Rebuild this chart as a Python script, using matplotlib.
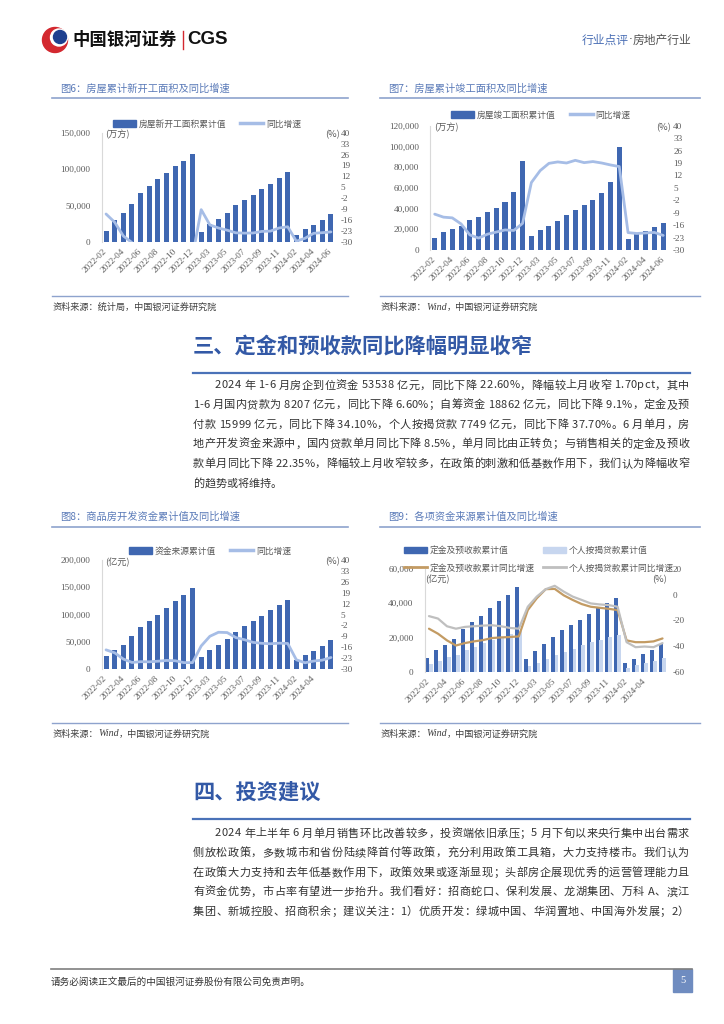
import matplotlib
matplotlib.use("Agg")
import matplotlib.pyplot as plt
import numpy as np
from matplotlib.patches import Rectangle, Circle, Patch
from matplotlib.lines import Line2D

plt.rcParams['font.family'] = ['Noto Sans CJK SC', 'DejaVu Sans']
plt.rcParams['axes.unicode_minus'] = False
SERIF = ['Liberation Serif', 'DejaVu Serif']

# ---------------- data ----------------
months = ['2022-02', '2022-03', '2022-04', '2022-05', '2022-06', '2022-07', '2022-08',
          '2022-09', '2022-10', '2022-11', '2022-12',
          '2023-02', '2023-03', '2023-04', '2023-05', '2023-06', '2023-07', '2023-08',
          '2023-09', '2023-10', '2023-11', '2023-12',
          '2024-02', '2024-03', '2024-04', '2024-05', '2024-06']

# fig 6: new starts, 万方 / %
new_start = [15110, 29638, 39739, 51628, 66423, 76621, 85700, 94767, 103722, 111632, 120587,
             13567, 24121, 31606, 39723, 49880, 56969, 63891, 72123, 79177, 87456, 95376,
             9429, 17359, 23510, 30090, 38023]
new_start_yoy = [-12.2, -17.5, -26.3, -30.6, -34.4, -36.1, -37.2, -38.0, -37.8, -38.9, -39.4,
                 -9.4, -19.2, -21.2, -22.6, -24.3, -24.5, -24.4, -23.4, -23.2, -21.2, -20.4,
                 -29.7, -27.8, -24.6, -24.2, -23.7]

# fig 7: completions, 万方 / %
completed = [11529, 17324, 20565, 23336, 28636, 32028, 36222, 40879, 46565, 55709, 86222,
             13178, 19422, 23551, 27826, 33904, 38405, 43726, 48705, 55151, 65237, 99831,
             10395, 15530, 18579, 22245, 26519]
completed_yoy = [-9.8, -11.5, -11.9, -15.3, -21.5, -23.3, -21.1, -19.9, -18.7, -19.0, -15.0,
                 8.0, 14.7, 18.8, 19.6, 19.0, 20.5, 19.2, 19.8, 19.0, 17.9, 17.0,
                 -20.2, -20.7, -20.4, -20.1, -21.8]

# fig 8: funds sourced, 亿元 / %
funds = [23438, 34936, 44797, 60180, 76455, 88770, 99914, 111770, 124477, 135890, 148979,
         21520, 34899, 43832, 55958, 68797, 78731, 87719, 98067, 107345, 116616, 127459,
         16493, 25416, 33421, 42571, 53538]
funds_yoy = [-17.7, -19.6, -23.6, -25.8, -25.3, -25.4, -25.0, -24.5, -24.7, -25.9, -25.9,
             -15.2, -9.0, -6.4, -6.6, -9.8, -11.2, -12.9, -13.5, -13.8, -13.4, -13.6,
             -24.1, -26.0, -24.9, -24.3, -22.6]

# fig 9: deposits & mortgages, 亿元 / %
deposit = [8200, 12700, 15600, 19300, 24800, 28900, 32800, 37400, 41300, 45000, 49289,
           7400, 12100, 16200, 20100, 24600, 27500, 30400, 33900, 37600, 40000, 43202,
           4900, 7600, 10300, 12900, 15999]
mortgage = [4500, 6400, 8400, 9900, 12700, 14600, 16500, 18600, 20400, 22100, 23815,
            3600, 5300, 7600, 9600, 11400, 13500, 15400, 17100, 18700, 20100, 21489,
            2400, 3800, 5300, 6500, 7749]
deposit_yoy = [-26.5, -30.4, -35.6, -39.6, -37.7, -36.4, -35.4, -33.8, -33.3, -33.0, -32.5,
               -12.0, -2.8, 4.3, 4.5, -0.5, -4.1, -7.3, -9.4, -10.2, -11.0, -12.0,
               -35.6, -37.0, -37.0, -36.4, -34.1]
mortgage_yoy = [-16.7, -18.6, -24.6, -26.5, -25.1, -24.6, -24.1, -23.8, -24.6, -25.9, -26.5,
                -9.4, -1.5, 4.3, 6.9, 2.4, -1.5, -4.1, -6.8, -7.6, -8.1, -9.4,
                -37.0, -40.9, -40.4, -40.9, -37.7]

para1 = ["2024 年 1-6 月房企到位资金 53538 亿元，同比下降 22.60%，降幅较上月收窄 1.70pct，其中",
         "1-6 月国内贷款为 8207 亿元，同比下降 6.60%；自筹资金 18862 亿元，同比下降 9.1%，定金及预",
         "付款 15999 亿元，同比下降 34.10%，个人按揭贷款 7749 亿元，同比下降 37.70%。6 月单月，房",
         "地产开发资金来源中，国内贷款单月同比下降 8.5%，单月同比由正转负；与销售相关的定金及预收",
         "款单月同比下降 22.35%，降幅较上月收窄较多，在政策的刺激和低基数作用下，我们认为降幅收窄",
         "的趋势或将维持。"]
para2 = ["2024 年上半年 6 月单月销售环比改善较多，投资端依旧承压；5 月下旬以来央行集中出台需求",
         "侧放松政策，多数城市和省份陆续降首付等政策，充分利用政策工具箱，大力支持楼市。我们认为",
         "在政策大力支持和去年低基数作用下，政策效果或逐渐显现；头部房企展现优秀的运营管理能力且",
         "有资金优势，市占率有望进一步抬升。我们看好：招商蛇口、保利发展、龙湖集团、万科 A、滨江",
         "集团、新城控股、招商积余；建议关注：1）优质开发：绿城中国、华润置地、中国海外发展；2）"]

# ---------------- page ----------------
W, H = 724, 1024
fig = plt.figure(figsize=(W / 100, H / 100), dpi=100)
bg = fig.add_axes([0, 0, 1, 1])
bg.set_xlim(0, W)
bg.set_ylim(H, 0)
bg.axis('off')
renderer = fig.canvas.get_renderer()

DARK = '#3f67b1'
LIGHT = '#a6bde6'
TXT = '#595959'
RULE = '#8ea3cd'

_wcache = {}


def text_w(s, **kw):
    key = (s, tuple(sorted((k, str(v)) for k, v in kw.items())))
    if key not in _wcache:
        t = bg.text(0, 0, 'a' + s + 'a', **kw)
        w1 = t.get_window_extent(renderer).width
        t.set_text('aa')
        w0 = t.get_window_extent(renderer).width
        t.remove()
        _wcache[key] = w1 - w0
    return _wcache[key]


def put_runs(x, y, runs, align='left', va='center'):
    widths = [text_w(s, **kw) for s, kw in runs]
    if align == 'right':
        x -= sum(widths)
    for (s, kw), w in zip(runs, widths):
        fig.text(x / W, 1 - y / H, s, va=va, ha='left', zorder=5, **kw)
        x += w


def justify(line, x0, x1, y, size, color, stretch=True):
    ws = [text_w(c, fontsize=size) for c in line]
    gap = (x1 - x0 - sum(ws)) / (len(line) - 1) if stretch else 0
    x = x0
    for c, w in zip(line, ws):
        if c != ' ':
            bg.text(x, y, c, fontsize=size, color=color, ha='left', va='baseline')
        x += w + gap


def hline(x0, x1, y, color, lw):
    bg.add_line(Line2D([x0, x1], [y, y], color=color, lw=lw))


def label(x, y, s, **kw):
    # text drawn above the chart axes
    fig.text(x / W, 1 - y / H, s, zorder=5, **kw)


# header
bg.add_patch(Circle((55, 40), 12.5, color='#d3282f'))
bg.add_patch(Circle((59, 37.5), 8.5, color='white'))
bg.add_patch(Circle((60, 37), 6.5, color='#1e3f8f'))
bg.text(72, 40, '中国银河证券', fontsize=12.5, fontweight='bold', color='#111111', va='center')
bg.add_line(Line2D([183, 183], [31, 49], color='#d3282f', lw=1))
bg.text(187, 40, 'CGS', fontsize=13.5, fontweight='bold', color='#111111', va='center',
        family=['Liberation Sans'])
put_runs(691, 40, [('行业点评', dict(fontsize=8.5, color='#4a6fb5')),
                   ('·', dict(fontsize=8.5, color='#555555', family=['DejaVu Sans'])),
                   ('房地产行业', dict(fontsize=8.5, color='#555555'))], align='right')


# ---------------- charts ----------------
def chart(l, t, r, b, bars, lines, lmax, lstep, rlim, rstep, last_label=True):
    ax = fig.add_axes([l / W, 1 - b / H, (r - l) / W, (b - t) / H])
    ax.set_facecolor('none')
    x = np.arange(len(months))
    for vals, color, off, w in bars:
        ax.bar(x + off, vals, width=w, color=color, zorder=2)
    ax.set_xlim(-0.5, len(months) - 0.5)
    ax.set_ylim(0, lmax)
    yt = np.arange(0, lmax + 1, lstep)
    ax.set_yticks(yt)
    ax.set_yticklabels([f"{v:,}" for v in yt])
    labels = [m if i % 2 == 0 else '' for i, m in enumerate(months)]
    if not last_label:
        labels[-1] = ''
    ax.set_xticks(x)
    ax.set_xticklabels(labels, rotation=45, ha='right', va='center', rotation_mode='anchor')
    for s in ['top', 'right', 'bottom']:
        ax.spines[s].set_visible(False)
    ax.spines['left'].set_color('#d9d9d9')
    ax.tick_params(length=0, labelsize=6.6, labelcolor=TXT)
    ax.tick_params(axis='y', pad=8)
    ax.tick_params(axis='x', pad=6)
    ax2 = ax.twinx()
    ax2.set_facecolor('none')
    for vals, color, lw in lines:
        ax2.plot(x, vals, color=color, lw=lw, solid_capstyle='round', solid_joinstyle='round')
    ax2.set_ylim(*rlim)
    ax2.set_yticks(np.arange(rlim[0], rlim[1] + 1, rstep))
    for s in ax2.spines.values():
        s.set_visible(False)
    ax2.tick_params(length=0, labelsize=6.6, labelcolor=TXT, pad=4)
    for lab in ax.get_xticklabels() + ax.get_yticklabels() + ax2.get_yticklabels():
        lab.set_fontfamily(SERIF)
    return ax, ax2


def frame(x0, x1, ytitle, ybottom, title, source_runs):
    bg.text(x0 + 8, ytitle, title, fontsize=7.4, color='#5a7ab8', va='center')
    hline(x0, x1, ytitle + 10, RULE, 1.2)
    hline(x0, x1, ybottom, RULE, 1.0)
    put_runs(x0 + 1, ybottom + 11, source_runs)


SRC = dict(fontsize=6.6, color='#404040')
WIND = dict(fontsize=7.2, color='#404040', family=SERIF, style='italic')
UNIT = dict(fontsize=6.6, color=TXT, va='center')
LEG = dict(frameon=False, labelcolor=TXT, handlelength=2.6, handletextpad=0.35,
           bbox_transform=fig.transFigure, loc='center')

# fig 6
frame(52, 348, 88, 296, '图6：房屋累计新开工面积及同比增速',
      [('资料来源：统计局，中国银河证券研究院', SRC)])
ax, ax2 = chart(101.7, 132.7, 335.3, 241.7, [(new_start, DARK, 0, 0.58)],
                [(new_start_yoy, LIGHT, 2.0)], 150000, 50000, (-30, 40), 7)
ax2.legend([Patch(color=DARK), Line2D([], [], color=LIGHT, lw=2.5)],
           ['房屋新开工面积累计值', '同比增速'], ncol=2,
           bbox_to_anchor=(207 / W, 1 - 124 / H), fontsize=6.3, columnspacing=1.6, **LEG)
label(105, 135, '(万方)', **UNIT)
label(340, 135, '(%)', ha='right', **UNIT)

# fig 7
frame(380, 700, 88, 296, '图7：房屋累计竣工面积及同比增速',
      [('资料来源：', SRC), ('Wind', WIND), ('，中国银河证券研究院', SRC)])
ax, ax2 = chart(430.3, 125.7, 667.6, 250, [(completed, DARK, 0, 0.58)],
                [(completed_yoy, LIGHT, 2.0)], 120000, 20000, (-30, 40), 7)
ax2.legend([Patch(color=DARK), Line2D([], [], color=LIGHT, lw=2.5)],
           ['房屋竣工面积累计值', '同比增速'], ncol=2,
           bbox_to_anchor=(541 / W, 1 - 115 / H), fontsize=6.3, columnspacing=1.6, **LEG)
label(434, 128, '(万方)', **UNIT)
label(671, 128, '(%)', ha='right', **UNIT)

# fig 8
frame(52, 348, 517, 723, '图8：商品房开发资金累计值及同比增速',
      [('资料来源：', SRC), ('Wind', WIND), ('，中国银河证券研究院', SRC)])
ax, ax2 = chart(101.7, 560, 335.3, 669, [(funds, DARK, 0, 0.58)],
                [(funds_yoy, LIGHT, 2.0)], 200000, 50000, (-30, 40), 7, last_label=False)
ax2.legend([Patch(color=DARK), Line2D([], [], color=LIGHT, lw=2.5)],
           ['资金来源累计值', '同比增速'], ncol=2,
           bbox_to_anchor=(210 / W, 1 - 551 / H), fontsize=6.3, columnspacing=1.6, **LEG)
label(105, 562, '(亿元)', **UNIT)
label(340, 562, '(%)', ha='right', **UNIT)

# fig 9
frame(380, 700, 517, 723, '图9：各项资金来源累计值及同比增速',
      [('资料来源：', SRC), ('Wind', WIND), ('，中国银河证券研究院', SRC)])
ax, ax2 = chart(424.5, 569, 667, 671.7,
                [(deposit, DARK, -0.19, 0.42), (mortgage, '#c7d6ef', 0.19, 0.42)],
                [(deposit_yoy, '#c39b63', 1.6), (mortgage_yoy, '#bfbfbf', 1.6)],
                60000, 20000, (-60, 20), 20, last_label=False)
label(425, 579, '(亿元)', **UNIT)
label(667, 580, '(%)', ha='right', **UNIT)
ax2.legend([Patch(color=DARK), Line2D([], [], color='#c39b63', lw=2),
            Patch(color='#c7d6ef'), Line2D([], [], color='#bfbfbf', lw=2)],
           ['定金及预收款累计值', '定金及预收款累计同比增速',
            '个人按揭贷款累计值', '个人按揭贷款累计同比增速'],
           ncol=2, bbox_to_anchor=(539 / W, 1 - 559 / H), fontsize=6.3,
           columnspacing=0.9, labelspacing=1.0, **LEG)

# ---------------- body text ----------------
HEAD = '#3359a6'
BODY = '#333333'
BS = 8.0

bg.text(193, 346, '三、定金和预收款同比降幅明显收窄', fontsize=15.3, fontweight='bold',
        color=HEAD, va='center')
hline(193, 690, 372.5, '#4a72b8', 1.6)
for i, line in enumerate(para1):
    x0 = 215 if i == 0 else 193
    justify(line, x0, 689, 388.5 + i * 19.6, BS, BODY, stretch=i < len(para1) - 1)

bg.text(193, 792, '四、投资建议', fontsize=15.3, fontweight='bold', color=HEAD, va='center')
hline(193, 690, 819, '#4a72b8', 1.6)
for i, line in enumerate(para2):
    x0 = 215 if i == 0 else 193
    justify(line, x0, 689, 836.5 + i * 19.6, BS, BODY)

# ---------------- footer ----------------
hline(51, 692, 969, '#7f7f7f', 1.2)
bg.text(51, 982, '请务必阅读正文最后的中国银河证券股份有限公司免责声明。', fontsize=6.9,
        color='#333333', va='center')
bg.add_patch(Rectangle((673, 969), 19, 23, color='#6f8cc0'))
bg.text(682.5, 980.5, '5', fontsize=7.5, color='white', ha='center', va='center',
        family=SERIF)

fig.savefig('out.png', dpi=100)
